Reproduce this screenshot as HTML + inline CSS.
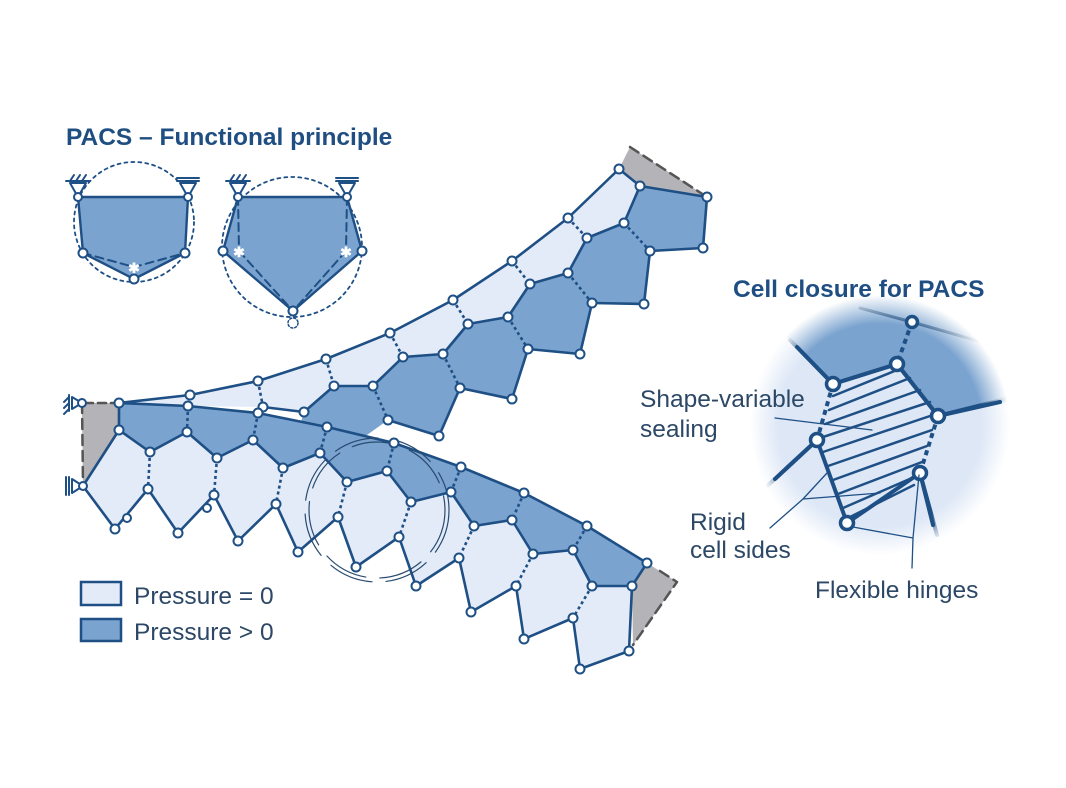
<!DOCTYPE html>
<html><head><meta charset="utf-8"><style>
html,body{margin:0;padding:0;background:#fff;width:1066px;height:788px;overflow:hidden}
svg{display:block}
text{font-family:"Liberation Sans",sans-serif}
</style></head><body>
<svg width="1066" height="788" viewBox="0 0 1066 788" xmlns="http://www.w3.org/2000/svg">
<defs>
<radialGradient id="mg" cx="880" cy="425" r="130" gradientUnits="userSpaceOnUse">
<stop offset="0.78" stop-color="#fff"/><stop offset="1" stop-color="#000"/>
</radialGradient>
<mask id="mk"><rect x="700" y="250" width="366" height="350" fill="url(#mg)"/></mask>
</defs>
<g stroke="#1e4f85" stroke-linejoin="round" stroke-linecap="round">
<!-- Upper arm -->
<polygon fill="#e3ebf8" stroke="none" points="119,403 190,395 258,381 326,359 390,333 453,300 512,261 568,218 619,169 640,186 624,223 587,238 568,273 530,284 508,317 468,324 443,354 403,357 373,386 334,386 304,412 263,407 188,406"/>
<g fill="#7aa3cf" stroke="none">
<polygon points="304,412 334,386 373,386 388,420 360,440 300,425"/>
<polygon points="373,386 403,357 443,354 460,388 439,436 388,420"/>
<polygon points="443,354 468,324 508,317 528,349 512,399 460,388"/>
<polygon points="508,317 530,284 568,273 592,303 580,354 528,349"/>
<polygon points="568,273 587,238 624,223 650,251 644,304 592,303"/>
<polygon points="624,223 640,186 707,197 703,248 650,251"/>
</g>
<polygon fill="#b3b3b8" stroke="none" points="619,169 630,147 707,197 640,186"/>
<line x1="630" y1="147" x2="707" y2="197" stroke="#555" stroke-width="2.5" stroke-dasharray="10 6"/>
<g fill="none" stroke-width="2.6">
<polyline points="119,403 190,395 258,381 326,359 390,333 453,300 512,261 568,218 619,169 640,186"/>
<polyline points="263,407 304,412 334,386 373,386 403,357 443,354 468,324 508,317 530,284 568,273 587,238 624,223 640,186"/>
<polyline points="388,420 439,436 460,388 512,399 528,349 580,354 592,303 644,304 650,251 703,248 707,197 640,186"/>
</g>
<g stroke-width="2.6" stroke-dasharray="3 3" stroke-linecap="butt">
<line x1="190" y1="395" x2="188" y2="406"/><line x1="258" y1="381" x2="263" y2="407"/>
<line x1="326" y1="359" x2="334" y2="386"/><line x1="390" y1="333" x2="403" y2="357"/>
<line x1="453" y1="300" x2="468" y2="324"/><line x1="512" y1="261" x2="530" y2="284"/>
<line x1="568" y1="218" x2="587" y2="238"/>
<line x1="373" y1="386" x2="388" y2="420"/><line x1="443" y1="354" x2="460" y2="388"/>
<line x1="508" y1="317" x2="528" y2="349"/><line x1="568" y1="273" x2="592" y2="303"/>
<line x1="624" y1="223" x2="650" y2="251"/>
</g>
<!-- Lower arm -->
<polygon fill="#b3b3b8" stroke="none" points="82,403 119,403 119,430 83,486"/>
<line x1="82" y1="403" x2="83" y2="486" stroke="#555" stroke-width="2.5" stroke-dasharray="10 6"/>
<polygon fill="#7aa3cf" stroke="none" points="119,403 188,406 258,413 327,427 394,443 461,467 524,493 587,526 647,563 632,586 592,586 573,550 533,554 512,520 474,526 451,492 411,502 387,471 347,482 320,453 283,468 253,440 217,458 187,432 150,452 119,430"/>
<polygon fill="#e3ebf8" stroke="none" points="83,486 119,430 150,452 187,432 217,458 253,440 283,468 320,453 347,482 387,471 411,502 451,492 474,526 512,520 533,554 573,550 592,586 632,586 629,651 580,669 573,618 524,639 516,586 471,612 459,558 416,586 399,537 356,567 338,517 298,552 276,504 238,541 214,495 178,533 148,489 115,529"/>
<polygon fill="#b3b3b8" stroke="none" points="647,563 677,582 633,645 632,586"/>
<polyline points="660,571 677,582 633,645" fill="none" stroke="#555" stroke-width="2.5" stroke-dasharray="10 6"/>
<g fill="none" stroke-width="2.6">
<polyline points="119,403 188,406 258,413 327,427 394,443 461,467 524,493 587,526 647,563 632,586"/>
<polyline points="119,403 119,430 150,452 187,432 217,458 253,440 283,468 320,453 347,482 387,471 411,502 451,492 474,526 512,520 533,554 573,550 592,586 632,586"/>
<polyline points="119,430 83,486 115,529 148,489 178,533 214,495 238,541 276,504 298,552 338,517 356,567 399,537 416,586 459,558 471,612 516,586 524,639 573,618 580,669 629,651 632,586"/>
<line x1="119" y1="403" x2="82" y2="403" stroke="#555" stroke-dasharray="8 5"/>
</g>
<g stroke-width="2.6" stroke-dasharray="3 3" stroke-linecap="butt">
<line x1="188" y1="406" x2="187" y2="432"/><line x1="258" y1="413" x2="253" y2="440"/>
<line x1="327" y1="427" x2="320" y2="453"/><line x1="394" y1="443" x2="387" y2="471"/>
<line x1="461" y1="467" x2="451" y2="492"/><line x1="524" y1="493" x2="512" y2="520"/>
<line x1="587" y1="526" x2="573" y2="550"/>
<line x1="150" y1="452" x2="148" y2="489"/><line x1="217" y1="458" x2="214" y2="495"/>
<line x1="283" y1="468" x2="276" y2="504"/><line x1="347" y1="482" x2="338" y2="517"/>
<line x1="411" y1="502" x2="399" y2="537"/><line x1="474" y1="526" x2="459" y2="558"/>
<line x1="533" y1="554" x2="516" y2="586"/><line x1="592" y1="586" x2="573" y2="618"/>
</g>
<g fill="none" stroke="#2a4b70" stroke-width="1.2" stroke-dasharray="45 14">
<circle cx="377" cy="510" r="68"/><circle cx="377" cy="510" r="72"/>
</g>
<g fill="#fff" stroke-width="2">
<polygon points="82,403 72,397 72,409"/>
<line x1="69" y1="395" x2="69" y2="411"/>
<line x1="69" y1="397" x2="64" y2="402"/><line x1="69" y1="403" x2="64" y2="408"/><line x1="69" y1="409" x2="64" y2="414"/>
<polygon points="83,486 72,479 72,493"/>
<line x1="69" y1="477" x2="69" y2="495"/><line x1="66" y1="477" x2="66" y2="495"/>
</g>
<g fill="#fff" stroke-width="2">
<circle cx="82" cy="403" r="4"/><circle cx="83" cy="486" r="4"/>
<circle cx="119" cy="403" r="4.5"/><circle cx="190" cy="395" r="4.5"/><circle cx="258" cy="381" r="4.5"/><circle cx="326" cy="359" r="4.5"/><circle cx="390" cy="333" r="4.5"/><circle cx="453" cy="300" r="4.5"/><circle cx="512" cy="261" r="4.5"/><circle cx="568" cy="218" r="4.5"/><circle cx="619" cy="169" r="4.5"/><circle cx="640" cy="186" r="4.5"/>
<circle cx="263" cy="407" r="4.5"/><circle cx="304" cy="412" r="4.5"/><circle cx="334" cy="386" r="4.5"/><circle cx="373" cy="386" r="4.5"/><circle cx="403" cy="357" r="4.5"/><circle cx="443" cy="354" r="4.5"/><circle cx="468" cy="324" r="4.5"/><circle cx="508" cy="317" r="4.5"/><circle cx="530" cy="284" r="4.5"/><circle cx="568" cy="273" r="4.5"/><circle cx="587" cy="238" r="4.5"/><circle cx="624" cy="223" r="4.5"/>
<circle cx="388" cy="420" r="4.5"/><circle cx="439" cy="436" r="4.5"/><circle cx="460" cy="388" r="4.5"/><circle cx="512" cy="399" r="4.5"/><circle cx="528" cy="349" r="4.5"/><circle cx="580" cy="354" r="4.5"/><circle cx="592" cy="303" r="4.5"/><circle cx="644" cy="304" r="4.5"/><circle cx="650" cy="251" r="4.5"/><circle cx="703" cy="248" r="4.5"/><circle cx="707" cy="197" r="4.5"/>
<circle cx="188" cy="406" r="4.5"/><circle cx="258" cy="413" r="4.5"/><circle cx="327" cy="427" r="4.5"/><circle cx="394" cy="443" r="4.5"/><circle cx="461" cy="467" r="4.5"/><circle cx="524" cy="493" r="4.5"/><circle cx="587" cy="526" r="4.5"/><circle cx="647" cy="563" r="4.5"/>
<circle cx="119" cy="430" r="4.5"/><circle cx="150" cy="452" r="4.5"/><circle cx="187" cy="432" r="4.5"/><circle cx="217" cy="458" r="4.5"/><circle cx="253" cy="440" r="4.5"/><circle cx="283" cy="468" r="4.5"/><circle cx="320" cy="453" r="4.5"/><circle cx="347" cy="482" r="4.5"/><circle cx="387" cy="471" r="4.5"/><circle cx="411" cy="502" r="4.5"/><circle cx="451" cy="492" r="4.5"/><circle cx="474" cy="526" r="4.5"/><circle cx="512" cy="520" r="4.5"/><circle cx="533" cy="554" r="4.5"/><circle cx="573" cy="550" r="4.5"/><circle cx="592" cy="586" r="4.5"/><circle cx="632" cy="586" r="4.5"/>
<circle cx="115" cy="529" r="4.5"/><circle cx="148" cy="489" r="4.5"/><circle cx="127" cy="518" r="4"/><circle cx="178" cy="533" r="4.5"/><circle cx="214" cy="495" r="4.5"/><circle cx="207" cy="508" r="4"/><circle cx="238" cy="541" r="4.5"/><circle cx="276" cy="504" r="4.5"/><circle cx="298" cy="552" r="4.5"/><circle cx="338" cy="517" r="4.5"/><circle cx="356" cy="567" r="4.5"/><circle cx="399" cy="537" r="4.5"/><circle cx="416" cy="586" r="4.5"/><circle cx="459" cy="558" r="4.5"/><circle cx="471" cy="612" r="4.5"/><circle cx="516" cy="586" r="4.5"/><circle cx="524" cy="639" r="4.5"/><circle cx="573" cy="618" r="4.5"/><circle cx="580" cy="669" r="4.5"/><circle cx="629" cy="651" r="4.5"/>
</g>

<!-- Functional principle -->
<circle cx="134" cy="222" r="60" fill="none" stroke-width="1.8" stroke-dasharray="3 4"/>
<polygon points="78,197 188,197 185,253 134,279 83,253" fill="#7aa3cf" stroke-width="2.4"/>
<polyline points="83,253 134,267 185,253" fill="none" stroke-width="2" stroke-dasharray="8 5"/>
<circle cx="292" cy="247" r="70" fill="none" stroke-width="1.8" stroke-dasharray="3 4"/>
<polygon points="238,197 347,197 362,251 293,311 223,251" fill="#7aa3cf" stroke-width="2.4"/>
<g stroke-width="2" stroke-dasharray="8 5" fill="none">
<line x1="238" y1="197" x2="239" y2="251"/><line x1="347" y1="197" x2="346" y2="251"/>
<line x1="239" y1="251" x2="293" y2="311"/><line x1="346" y1="251" x2="293" y2="311"/>
</g>
<circle cx="293" cy="323" r="5" fill="none" stroke-width="1.5" stroke-dasharray="2 2"/>
<g fill="#fff" font-size="14" stroke="none" font-weight="bold">
<text x="134" y="273" text-anchor="middle">✱</text>
<text x="239" y="257" text-anchor="middle">✱</text>
<text x="346" y="257" text-anchor="middle">✱</text>
</g>
<g fill="#fff" stroke-width="2">
<polygon points="78,197 70,183 86,183"/><line x1="66" y1="181" x2="90" y2="181"/>
<line x1="70" y1="181" x2="74" y2="175"/><line x1="76" y1="181" x2="80" y2="175"/><line x1="82" y1="181" x2="86" y2="175"/>
<polygon points="188,197 180,183 196,183"/><line x1="177" y1="181" x2="199" y2="181"/><line x1="177" y1="178" x2="199" y2="178"/>
<polygon points="238,197 230,183 246,183"/><line x1="226" y1="181" x2="250" y2="181"/>
<line x1="230" y1="181" x2="234" y2="175"/><line x1="236" y1="181" x2="240" y2="175"/><line x1="242" y1="181" x2="246" y2="175"/>
<polygon points="347,197 339,183 355,183"/><line x1="336" y1="181" x2="358" y2="181"/><line x1="336" y1="178" x2="358" y2="178"/>
<circle cx="78" cy="197" r="4"/><circle cx="188" cy="197" r="4"/><circle cx="83" cy="253" r="4.5"/><circle cx="185" cy="253" r="4.5"/><circle cx="134" cy="279" r="4.5"/>
<circle cx="238" cy="197" r="4"/><circle cx="347" cy="197" r="4"/><circle cx="223" cy="251" r="4.5"/><circle cx="362" cy="251" r="4.5"/><circle cx="293" cy="311" r="4.5"/>
</g>

<!-- Cell closure -->
<g mask="url(#mk)">
<circle cx="880" cy="425" r="132" fill="#dde7f6" stroke="none"/>
<polygon points="740,290 1030,290 1030,398 938,416 897,364 833,384 790,340" fill="#7aa3cf" stroke="none"/>
<g fill="none" stroke-width="4">
<polyline points="790,340 833,384 897,364 938,416 1010,398"/>
<line x1="912" y1="322" x2="1010" y2="350" stroke-width="3"/>
<line x1="912" y1="322" x2="860" y2="308" stroke-width="3"/>
<line x1="817" y1="440" x2="765" y2="488"/>
<line x1="920" y1="473" x2="937" y2="535"/>
</g>
</g>
<g fill="none" stroke-width="4">
<polyline points="797,347 833,384 897,364 938,416 1000,402"/>
<line x1="912" y1="322" x2="897" y2="364" stroke-dasharray="5 4" stroke-linecap="butt"/>
<line x1="833" y1="384" x2="817" y2="440" stroke-dasharray="5 4" stroke-linecap="butt"/>
<line x1="938" y1="416" x2="920" y2="473" stroke-dasharray="5 4" stroke-linecap="butt"/>
<line x1="817" y1="440" x2="847" y2="523"/>
<line x1="847" y1="523" x2="920" y2="473"/>
<line x1="817" y1="440" x2="775" y2="479"/>
<line x1="920" y1="473" x2="933" y2="525"/>
</g>
<g stroke-width="2.5">
<line x1="833" y1="396" x2="897" y2="370"/>
<line x1="829" y1="410" x2="910" y2="378"/>
<line x1="825" y1="424" x2="920" y2="390"/>
<line x1="820" y1="438" x2="930" y2="402"/>
<line x1="823" y1="452" x2="936" y2="414"/>
<line x1="828" y1="466" x2="932" y2="430"/>
<line x1="833" y1="480" x2="927" y2="446"/>
<line x1="838" y1="494" x2="922" y2="462"/>
<line x1="843" y1="508" x2="912" y2="478"/>
<line x1="850" y1="517" x2="914" y2="485"/>
</g>
<g fill="#fff" stroke-width="3.5">
<circle cx="912" cy="322" r="5.5"/>
<circle cx="897" cy="364" r="6.5"/><circle cx="833" cy="384" r="6.5"/><circle cx="938" cy="416" r="6.5"/><circle cx="817" cy="440" r="6.5"/><circle cx="920" cy="473" r="6.5"/><circle cx="847" cy="523" r="6.5"/>
</g>
<g stroke-width="1.3" fill="none">
<line x1="775" y1="418" x2="872" y2="430"/>
<polyline points="770,528 803,499 827,473"/><line x1="803" y1="499" x2="880" y2="493"/>
<polyline points="853,527 913,538 919,475"/><line x1="913" y1="538" x2="912" y2="568"/>
</g>
</g>

<g fill="#1f4e82" font-weight="bold" font-size="24.5">
<text x="66" y="145">PACS – Functional principle</text>
<text x="733" y="297">Cell closure for PACS</text>
</g>
<g fill="#2c4866" font-size="24.5">
<text x="640" y="407">Shape-variable</text>
<text x="640" y="437">sealing</text>
<text x="690" y="530">Rigid</text>
<text x="690" y="558">cell sides</text>
<text x="815" y="598">Flexible hinges</text>
<text x="134" y="604">Pressure = 0</text>
<text x="134" y="640">Pressure &gt; 0</text>
</g>
<rect x="81" y="582" width="40" height="23" fill="#e3ebf8" stroke="#1e4f85" stroke-width="2.5"/>
<rect x="81" y="619" width="40" height="22" fill="#7aa3cf" stroke="#1e4f85" stroke-width="2.5"/>
</svg>
</body></html>
